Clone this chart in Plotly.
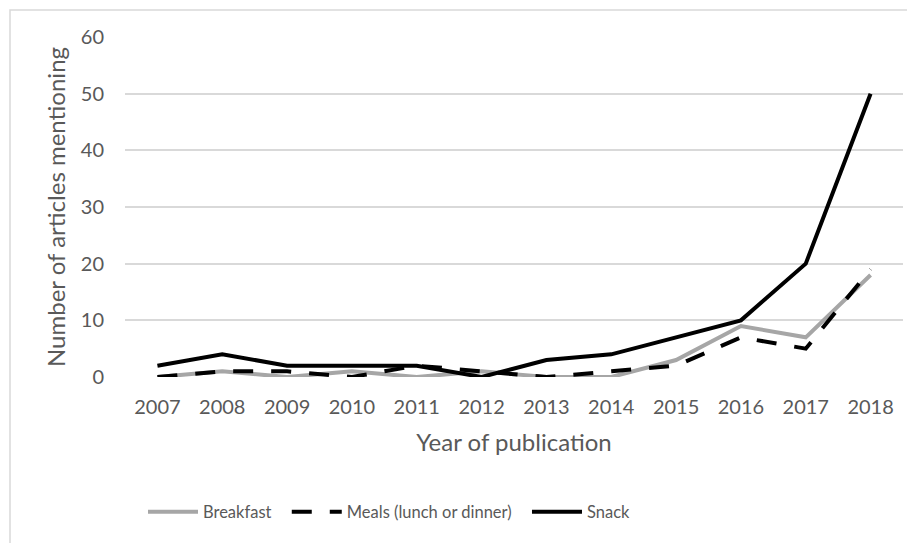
import plotly.graph_objects as go

years = ["2007", "2008", "2009", "2010", "2011", "2012", "2013", "2014", "2015", "2016", "2017", "2018"]
breakfast = [0, 1, 0, 1, 0, 1, 0, 0, 3, 9, 7, 18]
meals = [0, 1, 1, 0, 2, 1, 0, 1, 2, 7, 5, 19]
snack = [2, 4, 2, 2, 2, 0, 3, 4, 7, 10, 20, 50]
y_ticks = [0, 10, 20, 30, 40, 50, 60]
series_names = ["Breakfast", "Meals (lunch or dinner)", "Snack"]

FONT = "Lato"
TXT = "#595959"
PAD = "\u2002\u2009"  # extra spacing after each legend entry

fig = go.Figure()
fig.add_trace(go.Scatter(x=years, y=breakfast, name=series_names[0] + PAD, mode="lines",
                         line=dict(color="#a6a6a6", width=4)))
fig.add_trace(go.Scatter(x=years, y=meals, name=series_names[1] + PAD, mode="lines",
                         line=dict(color="#000000", width=4, dash="20px,18px")))
fig.add_trace(go.Scatter(x=years, y=snack, name=series_names[2], mode="lines",
                         line=dict(color="#000000", width=4)))

# page body has an 8px margin, so the figure is drawn 8px smaller and offset
OFF = 8
W, H = 915 - OFF, 543 - OFF
L, T = 125 - OFF, 37 - OFF
pw, ph = 778, 340
R, B = W - L - pw, H - T - ph

fig.update_layout(
    width=W, height=H,
    margin=dict(l=L, r=R, t=T, b=B),
    paper_bgcolor="white", plot_bgcolor="white",
    font=dict(family=FONT, color=TXT, size=20),
    showlegend=True,
    legend=dict(orientation="h", x=(143 - 125) / pw, xanchor="left", y=-(512 - 377) / ph, yanchor="middle",
                font=dict(family=FONT, size=16.5, color=TXT), itemwidth=50, tracegroupgap=0),
    xaxis=dict(type="category", range=[-0.5, 11.5], showgrid=False, showline=False,
               zeroline=False, ticks="", tickfont=dict(size=20, color=TXT), ticklabelstandoff=16,
               title=dict(text="Year of publication", font=dict(size=24, color=TXT), standoff=17)),
    yaxis=dict(range=[0, 60], tickvals=y_ticks, showgrid=True, gridcolor="#d9d9d9", gridwidth=1.5,
               zeroline=False, showline=False, ticks="", ticklabelstandoff=20,
               tickfont=dict(size=20, color=TXT),
               title=dict(text="Number of articles mentioning", font=dict(size=24, color=TXT), standoff=8)),
    shapes=[dict(type="rect", xref="paper", yref="paper",
                 x0=(10 - 125) / pw, x1=(915 + 30 - 125) / pw,
                 y0=-(543 + 30 - 377) / ph, y1=1 + (37 - 10) / ph,
                 line=dict(color="#d9d9d9", width=1.5), layer="below")],
)

fig.write_html("out.html")
